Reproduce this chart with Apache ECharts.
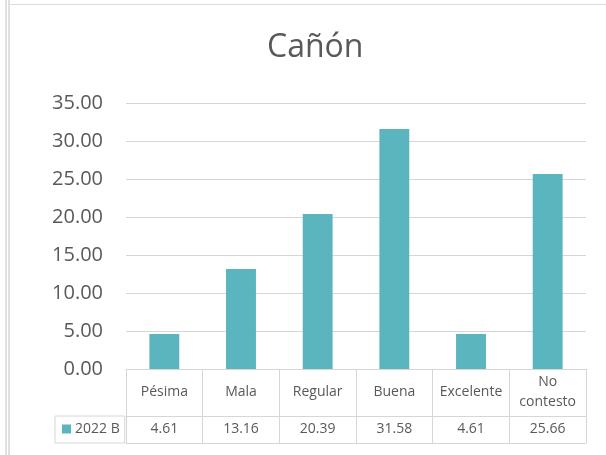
<!DOCTYPE html>
<html>
<head>
<meta charset="utf-8">
<script src="https://cdn.jsdelivr.net/npm/echarts@6/dist/echarts.min.js"></script>
<style>
html,body{margin:0;padding:0;background:#fff;}
#wrap{position:relative;width:606px;height:455px;overflow:hidden;}
.vl{position:absolute;top:0;width:2px;height:455px;background:#e0e0e0;}
.hl{position:absolute;left:10px;top:4px;width:596px;height:1px;background:#dcdcdc;}
#chart{position:absolute;left:0;top:0;width:606px;height:455px;}
</style>
</head>
<body>
<div id="wrap">
  <div class="vl" style="left:5px"></div>
  <div class="vl" style="left:8px"></div>
  <div class="hl"></div>
  <div id="chart"></div>
</div>
<script>
const title = 'Cañón';
const categories = ['Pésima', 'Mala', 'Regular', 'Buena', 'Excelente', 'No\ncontesto'];
const seriesName = '2022 B';
const values = [4.61, 13.16, 20.39, 31.58, 4.61, 25.66];
const yTicks = { min: 0, max: 35, interval: 5 };

const FONT = 'Open Sans';
const TXT = '#595959';
const LINE = '#d6d6d6';
const BAR = '#5ab5bf';

const chart = echarts.init(document.getElementById('chart'), null, { renderer: 'canvas' });
chart.setOption({
  animation: false,
  textStyle: { fontFamily: FONT },
  title: {
    text: title,
    left: 262,
    top: 27,
    textStyle: { fontFamily: FONT, fontSize: 32, fontWeight: 'normal', color: TXT }
  },
  legend: {
    data: [seriesName],
    left: 55,
    top: 416,
    icon: 'rect',
    itemWidth: 9,
    itemHeight: 9,
    padding: [6, 5, 7, 7],
    borderColor: LINE,
    borderWidth: 1,
    selectedMode: false,
    textStyle: { fontFamily: FONT, fontSize: 14, color: TXT, lineHeight: 14, padding: [0, 0, 0, -1] }
  },
  grid: { left: 126, right: 20, top: 103, bottom: 86, containLabel: false },
  xAxis: [
    {
      type: 'category',
      data: categories,
      position: 'bottom',
      axisLine: { show: true, lineStyle: { color: LINE, width: 1 } },
      axisTick: { show: true, interval: 0, length: 47, lineStyle: { color: LINE, width: 1 } },
      axisLabel: {
        interval: 0, margin: 23.5, verticalAlign: 'middle', lineHeight: 20,
        fontFamily: FONT, fontSize: 14, color: TXT
      }
    },
    {
      type: 'category',
      data: values.map(v => v.toFixed(2)),
      position: 'bottom',
      offset: 47,
      axisLine: { show: true, lineStyle: { color: LINE, width: 1 } },
      axisTick: { show: true, interval: 0, length: 27, lineStyle: { color: LINE, width: 1 } },
      axisLabel: {
        interval: 0, margin: 13.5, verticalAlign: 'middle',
        fontFamily: FONT, fontSize: 14, color: TXT
      }
    },
    {
      type: 'category',
      data: categories,
      position: 'bottom',
      offset: 74,
      axisLine: { show: true, lineStyle: { color: LINE, width: 1 } },
      axisTick: { show: false },
      axisLabel: { show: false }
    }
  ],
  yAxis: {
    type: 'value',
    min: yTicks.min,
    max: yTicks.max,
    interval: yTicks.interval,
    axisLine: { show: false },
    axisTick: { show: false },
    splitLine: { show: true, lineStyle: { color: LINE, width: 1 } },
    axisLabel: {
      margin: 23,
      fontFamily: FONT, fontSize: 20, color: TXT,
      formatter: v => v.toFixed(2)
    }
  },
  series: [{
    name: seriesName,
    type: 'bar',
    xAxisIndex: 0,
    data: values,
    barWidth: '39%',
    itemStyle: { color: BAR }
  }]
});
</script>
</body>
</html>
